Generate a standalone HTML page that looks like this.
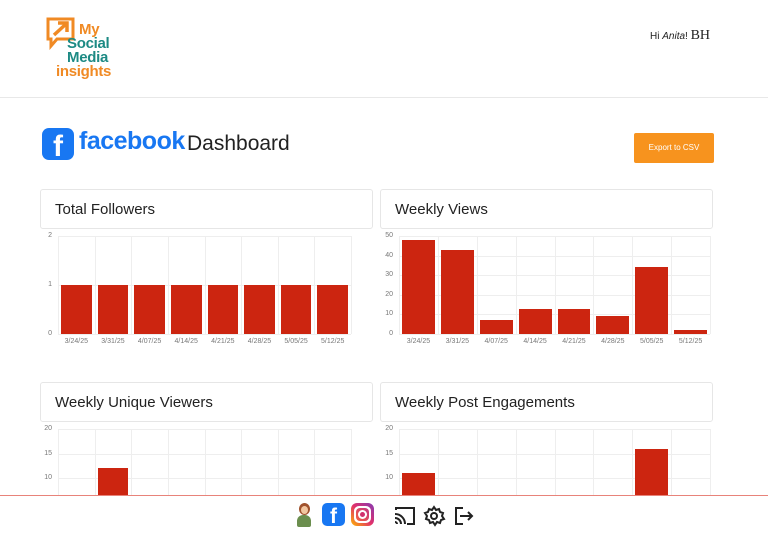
<!DOCTYPE html>
<html><head><meta charset="utf-8"><style>
*{margin:0;padding:0;box-sizing:border-box}
body{width:768px;height:537px;overflow:hidden;background:#fff;font-family:"Liberation Sans",sans-serif;position:relative}
.a{position:absolute}
.card{position:absolute;border:1px solid #e6e6e6;border-radius:3px;background:#fff;height:40px;font-size:15px;color:#222;padding:11px 14px}
.ax{position:absolute;font-size:7px;color:#777}
.bar{position:absolute;background:#cc2510}
.gl{position:absolute;background:#eee}
.lg{position:absolute;font-size:15px;font-weight:bold;line-height:14px;letter-spacing:-0.3px}
</style></head><body>
<div class="a" style="left:0;top:97px;width:768px;height:1px;background:#e8e8e8"></div>
<svg class="a" style="left:45px;top:16px" width="32" height="34"><path d="M3 3h25v20H12l-6 7v-7H3z" fill="none" stroke="#f08a24" stroke-width="3"/><path d="M9 19l12-11M13 7h9v9" stroke="#f08a24" stroke-width="3.5" fill="none"/></svg>
<div class="lg" style="left:79px;top:23px;color:#f08a24">My</div>
<div class="lg" style="left:67px;top:37px;color:#1d8a84">Social</div>
<div class="lg" style="left:67px;top:51px;color:#1d8a84">Media</div>
<div class="lg" style="left:56px;top:65px;color:#f08a24">insights</div>
<div class="a" style="left:650px;top:28px;font-size:10px;color:#222">Hi <i>Anita</i>! <span style="font-family:'Liberation Serif',serif;font-size:14px">BH</span></div>
<div class="a" style="left:42px;top:128px;width:32px;height:32px;border-radius:7px;background:#1877f2;color:#fff;font-weight:bold;font-size:30px;text-align:center;line-height:38px;overflow:hidden">f</div>
<div class="a" style="left:79px;top:127px;font-size:25px;font-weight:bold;color:#1877f2;letter-spacing:-0.5px">facebook</div>
<div class="a" style="left:187px;top:132px;font-size:21px;color:#222">Dashboard</div>
<div class="a" style="left:634px;top:133px;width:80px;height:30px;background:#f7931e;border-radius:2px;color:#fff;font-size:8px;text-align:center;line-height:30px">Export to CSV</div>
<div class="card" style="left:40px;top:189px;width:333px">Total Followers</div>
<div class="card" style="left:380px;top:189px;width:333px">Weekly Views</div>
<div class="card" style="left:40px;top:382px;width:333px">Weekly Unique Viewers</div>
<div class="card" style="left:380px;top:382px;width:333px">Weekly Post Engagements</div>
<div id="charts"></div>
<div class="a" style="left:0;top:495px;width:768px;height:42px;background:#fff;border-top:1px solid #e8837a"></div>
<div class="a" style="left:294px;top:502px;width:20px;height:26px"><div class="a" style="left:5px;top:1px;width:11px;height:12px;border-radius:50%;background:#a0522d"></div><div class="a" style="left:7px;top:4px;width:7px;height:8px;border-radius:50%;background:#f2c6a0"></div><div class="a" style="left:3px;top:13px;width:14px;height:12px;border-radius:6px 6px 2px 2px;background:#6b8e4e"></div></div>
<div class="a" style="left:322px;top:503px;width:23px;height:23px;border-radius:5px;background:#1877f2;color:#fff;font-weight:bold;font-size:21px;text-align:center;line-height:28px;overflow:hidden">f</div>
<div class="a" style="left:351px;top:503px;width:23px;height:23px;border-radius:6px;background:linear-gradient(45deg,#fdb400,#e1306c,#833ab4)"><div class="a" style="left:3px;top:3px;width:17px;height:17px;border-radius:5px;background:#fff"></div><div class="a" style="left:5px;top:5px;width:13px;height:13px;border-radius:4px;background:linear-gradient(45deg,#f56040,#c13584)"></div><div class="a" style="left:7px;top:7px;width:9px;height:9px;border-radius:50%;background:#fff"></div><div class="a" style="left:9px;top:9px;width:5px;height:5px;border-radius:50%;background:#d0306c"></div></div>
<svg class="a" style="left:393px;top:505px" width="90" height="22" fill="none" stroke="#222" stroke-width="2"><path d="M3 5V3h18v16h-7M2 9a10 10 0 0 1 10 10M2 13a6 6 0 0 1 6 6M2 17a2 2 0 0 1 2 2"/><circle cx="41" cy="11" r="3"/><path d="M41 2l2 3 3-1 1 3 3 1-1 3 2 3-3 1-1 3-3-1-2 3-2-3-3 1-1-3-3-1 1-3-2-3 3-1 1-3 3 1z"/><path d="M70 3h-7v16h7M67 11h12M75 7l4 4-4 4"/></svg>
<script>
function chart(x0,x1,yb,ppu,ticks,vals,showLabels){
 let h='';const c=document.getElementById('charts');
 const w=(x1-x0)/8;
 ticks.forEach(t=>{const y=yb-t*ppu;
  h+=`<div class="gl" style="left:${x0}px;top:${y}px;width:${x1-x0}px;height:1px"></div><div class="ax" style="left:${x0-30}px;top:${y-4}px;width:24px;text-align:right">${t}</div>`;});
 for(let i=0;i<=8;i++)h+=`<div class="gl" style="left:${x0+i*w}px;top:${yb-ticks[ticks.length-1]*ppu}px;width:1px;height:${ticks[ticks.length-1]*ppu}px"></div>`;
 const d=['3/24/25','3/31/25','4/07/25','4/14/25','4/21/25','4/28/25','5/05/25','5/12/25'];
 vals.forEach((v,i)=>{if(v)h+=`<div class="bar" style="left:${x0+i*w+3}px;top:${yb-v*ppu}px;width:${w-6}px;height:${v*ppu}px"></div>`;
  if(showLabels)h+=`<div class="ax" style="left:${x0+i*w}px;top:${yb+4}px;width:${w}px;text-align:center">${d[i]}</div>`;});
 c.insertAdjacentHTML('beforeend',h);
}
chart(58,351,334,49,[0,1,2],[1,1,1,1,1,1,1,1],true);
chart(399,710,334,1.96,[0,10,20,30,40,50],[48,43,7,13,13,9,34,2],true);
chart(58,351,527,4.9,[10,15,20],[0,12,0,0,0,0,0,0],false);
chart(399,710,527,4.9,[10,15,20],[11,0,0,0,0,0,16,0],false);
</script>
</body></html>
